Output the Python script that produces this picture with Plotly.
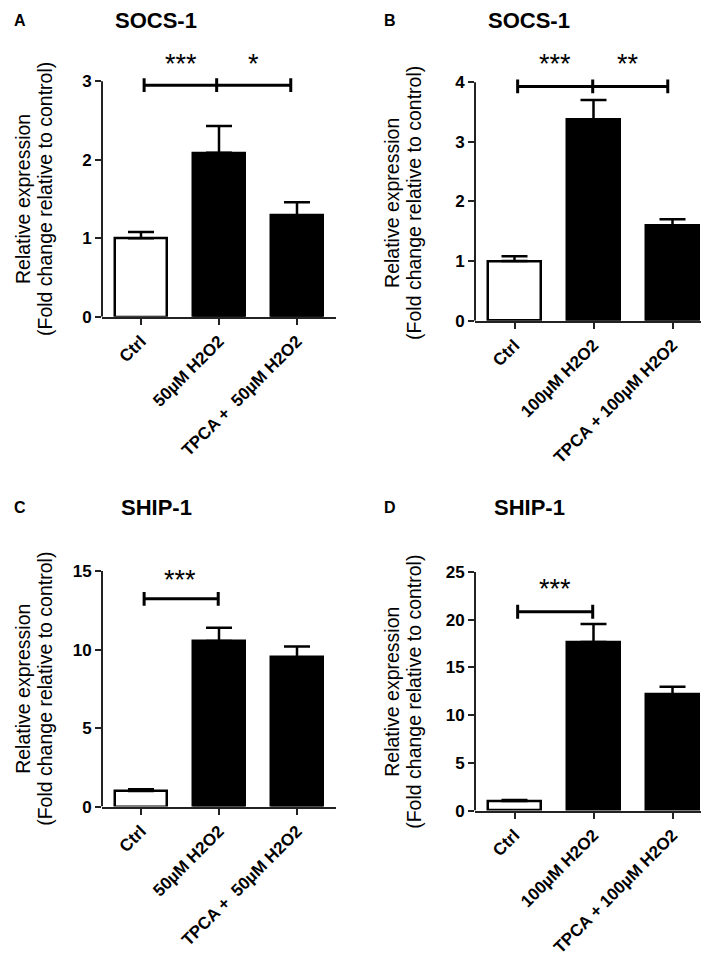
import plotly.graph_objects as go

# ---------------- data ----------------
cats_50 = ["Ctrl", "50µM H2O2", "TPCA +  50µM H2O2"]
cats_100 = ["Ctrl", "100µM H2O2", "TPCA + 100µM H2O2"]

socs1_50_mean = [1.0, 2.09, 1.29]
socs1_50_err = [0.08, 0.34, 0.17]
socs1_100_mean = [1.0, 3.38, 1.59]
socs1_100_err = [0.08, 0.32, 0.11]
ship1_50_mean = [1.0, 10.55, 9.5]
ship1_50_err = [0.1, 0.84, 0.7]
ship1_100_mean = [1.0, 17.66, 12.19]
ship1_100_err = [0.1, 1.9, 0.8]

ticks_A = [0, 1, 2, 3]
ticks_B = [0, 1, 2, 3, 4]
ticks_C = [0, 5, 10, 15]
ticks_D = [0, 5, 10, 15, 20, 25]

# significance brackets: x positions (category units), y level
brk_A_x = [0.04, 0.97, 1.92]
brk_A_y = 2.95
brk_B_x = [0.04, 0.99, 1.94]
brk_B_y = 3.93
brk_C_x = [0.04, 0.99]
brk_C_y = 13.23
brk_D_x = [0.04, 0.99]
brk_D_y = 20.84

stars_A = [("***", 0.51, 3.22), ("*", 1.44, 3.22)]
stars_B = [("***", 0.51, 4.31), ("**", 1.44, 4.31)]
stars_C = [("***", 0.50, 14.45)]
stars_D = [("***", 0.51, 23.2)]

titles = ["SOCS-1", "SOCS-1", "SHIP-1", "SHIP-1"]
letters = ["A", "B", "C", "D"]

# ---------------- layout helpers ----------------
W, H = 709, 960
FONT = "Liberation Sans, Arial, sans-serif"
BAR_COLORS = ["white", "black", "black"]


def px_x(p):
    return p / W


def px_y(p):
    return 1 - p / H


panels = [
    dict(cats=cats_50, mean=socs1_50_mean, err=socs1_50_err, ticks=ticks_A,
         brk_x=brk_A_x, brk_y=brk_A_y, stars=stars_A,
         x0=94, x1=328, yz=312, yt=74, tx=148, ty=13, lx=12, ly=13,
         t1x=15, t2x=37, tcy=193),
    dict(cats=cats_100, mean=socs1_100_mean, err=socs1_100_err, ticks=ticks_B,
         brk_x=brk_B_x, brk_y=brk_B_y, stars=stars_B,
         x0=467, x1=704, yz=316, yt=75, tx=521, ty=13, lx=382, ly=13,
         t1x=384, t2x=406, tcy=197),
    dict(cats=cats_50, mean=ship1_50_mean, err=ship1_50_err, ticks=ticks_C,
         brk_x=brk_C_x, brk_y=brk_C_y, stars=stars_C,
         x0=94, x1=328, yz=807, yt=569, tx=148, ty=505, lx=12, ly=505,
         t1x=15, t2x=37, tcy=688),
    dict(cats=cats_100, mean=ship1_100_mean, err=ship1_100_err, ticks=ticks_D,
         brk_x=brk_D_x, brk_y=brk_D_y, stars=stars_D,
         x0=467, x1=704, yz=811, yt=570, tx=521, ty=505, lx=382, ly=505,
         t1x=384, t2x=406, tcy=691),
]

fig = go.Figure()
annotations = []
shapes = []
layout_axes = {}

for i, p in enumerate(panels):
    n = i + 1
    xa = "x" if n == 1 else f"x{n}"
    ya = "y" if n == 1 else f"y{n}"
    top_tick = p["ticks"][-1]
    unit_px = (p["yz"] - p["yt"]) / top_tick
    range_top = top_tick * 1.2
    dom_top_px = p["yz"] - range_top * unit_px

    fig.add_trace(go.Bar(
        x=[0, 1, 2], y=p["mean"], width=0.66,
        marker=dict(color=BAR_COLORS, line=dict(color="black", width=2.5)),
        error_y=dict(type="data", array=p["err"], arrayminus=[0, 0, 0],
                     symmetric=False, color="black", thickness=2.5, width=13),
        xaxis=xa, yaxis=ya, showlegend=False, hoverinfo="skip",
    ))

    # significance bracket
    bx = p["brk_x"]
    by = p["brk_y"]
    h = 7 / unit_px
    xs, ys = [bx[0], bx[-1], None], [by, by, None]
    for v in bx:
        xs += [v, v, None]
        ys += [by - h, by + h, None]
    fig.add_trace(go.Scatter(
        x=xs, y=ys, mode="lines", line=dict(color="black", width=3),
        xaxis=xa, yaxis=ya, showlegend=False, hoverinfo="skip",
    ))

    for txt, sx, sy in p["stars"]:
        annotations.append(dict(
            x=sx, y=sy, xref=xa, yref=ya, text=txt, showarrow=False,
            font=dict(family=FONT, size=27, color="black"),
            xanchor="center", yanchor="middle",
        ))

    # y axis line drawn only up to top tick
    shapes.append(dict(
        type="line", xref=f"{xa} domain", yref=ya, x0=0, x1=0, y0=0, y1=top_tick,
        line=dict(color="#222", width=2),
    ))

    layout_axes["xaxis" if n == 1 else f"xaxis{n}"] = dict(
        domain=[px_x(p["x0"]), px_x(p["x1"])], anchor=ya,
        range=[-0.5, 2.5], tickvals=[0, 1, 2], ticktext=p["cats"],
        tickangle=-45, ticks="outside", ticklen=6, tickwidth=2, tickcolor="#222",
        showline=True, linewidth=2, linecolor="#222", showgrid=False, zeroline=False,
        tickfont=dict(family=FONT, size=17, color="black", weight="bold"),
        fixedrange=True,
    )
    layout_axes["yaxis" if n == 1 else f"yaxis{n}"] = dict(
        domain=[px_y(p["yz"]), px_y(dom_top_px)], anchor=xa,
        range=[0, range_top], tickvals=p["ticks"],
        ticks="outside", ticklen=6, tickwidth=2, tickcolor="#222",
        showline=False, showgrid=False, zeroline=False,
        tickfont=dict(family=FONT, size=17, color="black", weight="bold"),
        fixedrange=True,
    )

    # title and panel letter
    annotations.append(dict(
        x=px_x(p["tx"]), y=px_y(p["ty"]), xref="paper", yref="paper",
        text=f"<b>{titles[i]}</b>", showarrow=False,
        font=dict(family=FONT, size=22, color="black"),
        xanchor="center", yanchor="middle",
    ))
    annotations.append(dict(
        x=px_x(p["lx"]), y=px_y(p["ly"]), xref="paper", yref="paper",
        text=f"<b>{letters[i]}</b>", showarrow=False,
        font=dict(family=FONT, size=16, color="black"),
        xanchor="center", yanchor="middle",
    ))
    # y-axis titles (two lines)
    annotations.append(dict(
        x=px_x(p["t1x"]), y=px_y(p["tcy"]), xref="paper", yref="paper",
        text="Relative expression", textangle=-90, showarrow=False,
        font=dict(family=FONT, size=19.5, color="black"),
        xanchor="center", yanchor="middle",
    ))
    annotations.append(dict(
        x=px_x(p["t2x"]), y=px_y(p["tcy"]), xref="paper", yref="paper",
        text="(Fold change relative to control)", textangle=-90, showarrow=False,
        font=dict(family=FONT, size=19.5, color="black"),
        xanchor="center", yanchor="middle",
    ))

fig.update_layout(
    width=W, height=H, autosize=False,
    margin=dict(l=0, r=0, t=0, b=0),
    paper_bgcolor="white", plot_bgcolor="white",
    annotations=annotations, shapes=shapes, bargap=0,
    **layout_axes,
)

fig.write_html("out.html")
